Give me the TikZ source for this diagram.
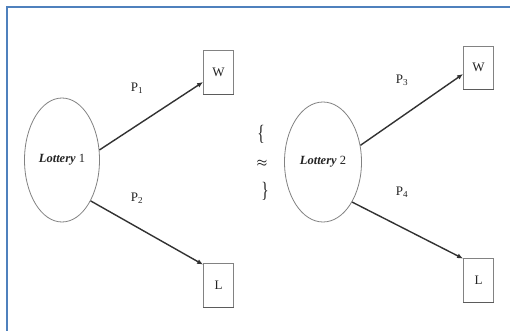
\documentclass[tikz,border=0pt]{standalone}
\usepackage{fontspec}
\setmainfont{Liberation Serif}
\usetikzlibrary{shapes.geometric,arrows.meta}
\definecolor{frameblue}{RGB}{79,129,189}
\definecolor{txt}{RGB}{35,35,35}
\definecolor{boxgray}{RGB}{130,130,130}
\definecolor{ellgray}{RGB}{130,130,130}
\definecolor{arrowgray}{RGB}{50,50,50}
\newcommand{\myapprox}{\mbox{\boldmath$\approx$}}
\tikzset{
  lottery/.style={ellipse, draw=ellgray, line width=0.8pt, inner sep=0pt, text=txt,
    font=\fontsize{12.5}{14}\selectfont},
  outbox/.style={rectangle, draw=boxgray, line width=0.8pt, minimum width=30pt, minimum height=44pt,
    inner sep=0pt, text=txt, font=\fontsize{13}{15}\selectfont},
  boxbottom/.style={draw=arrowgray!80, line width=1.1pt},
  branch/.style={draw=arrowgray, line width=1.4pt, -{Latex[length=6pt,width=5pt]}},
  prob/.style={text=txt, font=\fontsize{13}{15}\selectfont, inner sep=0pt},
  sym/.style={text=txt, inner sep=0pt},
  bigsym/.style={text=txt, inner sep=0pt, font=\fontsize{22}{24}\selectfont, xscale=0.7},
}
\begin{document}
\begin{tikzpicture}[x=1pt,y=-1pt]
\useasboundingbox (0,0) rectangle (510,331);
\fill[white] (0,0) rectangle (510,331);
\draw[frameblue, line width=2.5pt] (7,331) -- (7,7) -- (510,7);

\node[lottery, minimum width=75pt, minimum height=124pt] (e1) at (62,160) {\textbf{\textit{Lottery}} 1};
\node[lottery, minimum width=77pt, minimum height=120pt] (e2) at (323,162) {\textbf{\textit{Lottery}} 2};

\node[outbox] (w1) at (218.5,72.5) {W};
\node[outbox] (lb1) at (218.5,285) {L};
\node[outbox, minimum height=43pt] (w2) at (478.5,67.5) {W};
\node[outbox] (lb2) at (478.5,280) {L};

\foreach \b in {w1,lb1,w2,lb2}{
  \draw[boxbottom] (\b.south west) -- (\b.south east);
}

\draw[branch] (e1.15) -- ([yshift=-9.5pt]w1.west);
\draw[branch] (e1.-55) -- ([yshift=-2pt]lb1.north west);
\draw[branch] (e2.24) -- ([yshift=-6.5pt]w2.west);
\draw[branch] (e2.-54) -- ([yshift=-1pt]lb2.north west);

\node[prob] (p1) at (137,88) {P\textsubscript{1}};
\node[prob] (p2) at (137,198) {P\textsubscript{2}};
\node[prob] (p3) at (402,80) {P\textsubscript{3}};
\node[prob] (p4) at (402,192) {P\textsubscript{4}};

\node[bigsym] (bl) at (261,134) {\textbraceleft};
\node[sym, font=\fontsize{12}{14}\selectfont] (ap) at (262,163) {\myapprox};
\node[bigsym] (br) at (265,191) {\textbraceright};
\end{tikzpicture}
\end{document}
